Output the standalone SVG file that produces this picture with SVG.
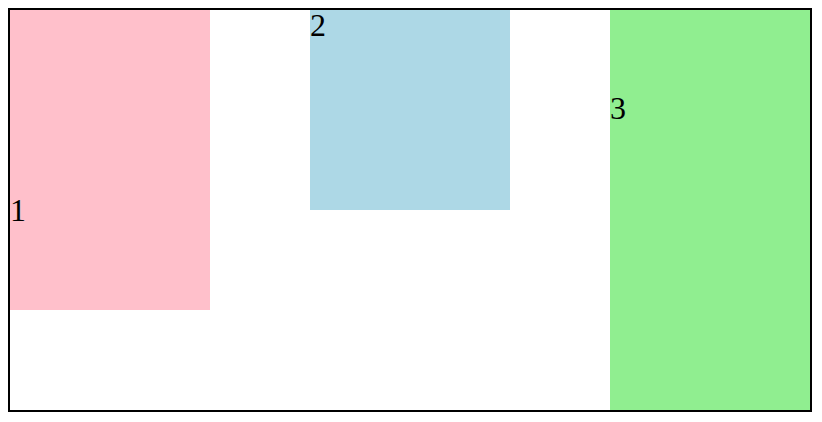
<svg xmlns="http://www.w3.org/2000/svg" width="822" height="422" viewBox="0 0 822 422">
<style>
.lbl{font-family:"Liberation Serif","Times New Roman",serif;font-size:32px;fill:#000}
</style>
<rect x="0" y="0" width="822" height="422" fill="#fff"/>
<g id="container"><rect x="9" y="9" width="802" height="402" fill="none" stroke="#000" stroke-width="2"/></g>
<g id="item1"><rect x="10" y="10" width="200" height="300" fill="#ffc0cb"/><text class="lbl" x="10" y="221">1</text></g>
<g id="item2"><rect x="310" y="10" width="200" height="200" fill="#add8e6"/><text class="lbl" x="310" y="36">2</text></g>
<g id="item3"><rect x="610" y="10" width="200" height="400" fill="#90ee90"/><text class="lbl" x="610" y="119">3</text></g>
<g id="connectors"></g>
</svg>
